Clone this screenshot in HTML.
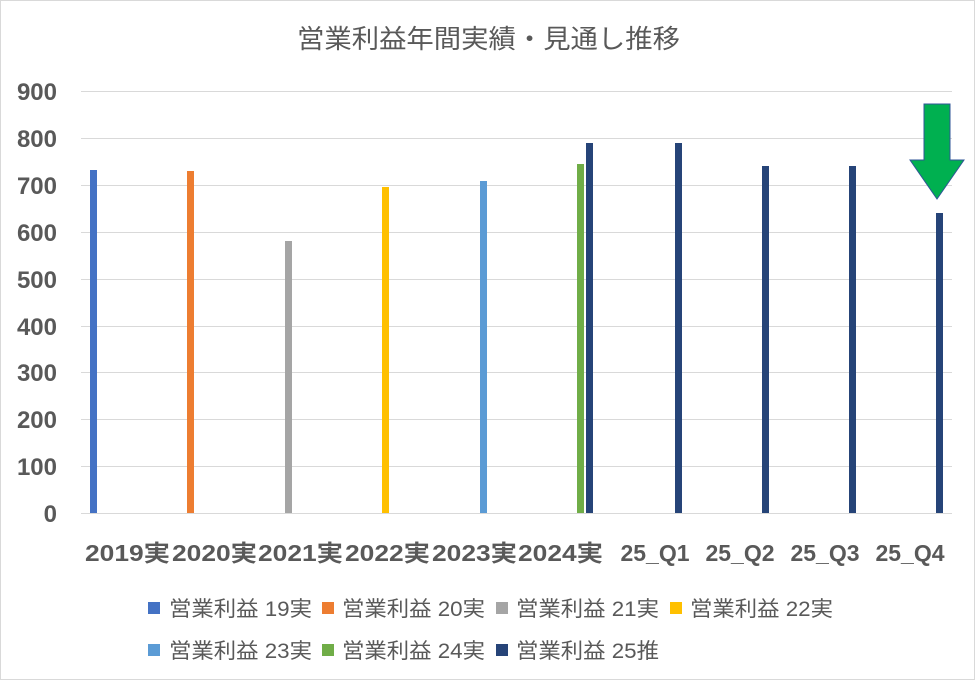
<!DOCTYPE html><html><head><meta charset="utf-8"><style>
body{margin:0;background:#fff}
svg{display:block}
text{font-family:"Liberation Sans","Noto Sans CJK JP",sans-serif;fill:#595959}
</style></head><body>
<svg width="975" height="680" viewBox="0 0 975 680">
<rect x="0.5" y="0.5" width="974" height="679" fill="#fff" stroke="#d9d9d9"/>
<text x="297" y="48" font-size="26" textLength="383" lengthAdjust="spacingAndGlyphs">営業利益年間実績・見通し推移</text>
<g stroke="#d9d9d9" stroke-width="1">
<line x1="81" x2="952" y1="91.5" y2="91.5"/><line x1="81" x2="952" y1="138.5" y2="138.5"/><line x1="81" x2="952" y1="185.5" y2="185.5"/><line x1="81" x2="952" y1="232.5" y2="232.5"/><line x1="81" x2="952" y1="279.5" y2="279.5"/><line x1="81" x2="952" y1="326.5" y2="326.5"/><line x1="81" x2="952" y1="372.5" y2="372.5"/><line x1="81" x2="952" y1="419.5" y2="419.5"/><line x1="81" x2="952" y1="466.5" y2="466.5"/><line x1="81" x2="952" y1="513.5" y2="513.5"/>
</g>
<g font-size="24" font-weight="bold" text-anchor="end">
<text x="57" y="100">900</text><text x="57" y="147">800</text><text x="57" y="194">700</text><text x="57" y="241">600</text><text x="57" y="288">500</text><text x="57" y="335">400</text><text x="57" y="381">300</text><text x="57" y="428">200</text><text x="57" y="475">100</text><text x="57" y="522">0</text>
</g>
<rect x="90" y="170" width="7" height="343" fill="#4472c4"/>
<rect x="187" y="171" width="7" height="342" fill="#ed7d31"/>
<rect x="285" y="241" width="7" height="272" fill="#a5a5a5"/>
<rect x="382" y="187" width="7" height="326" fill="#ffc000"/>
<rect x="480" y="181" width="7" height="332" fill="#5b9bd5"/>
<rect x="577" y="164" width="7" height="349" fill="#70ad47"/>
<g fill="#264478">
<rect x="586" y="143" width="7" height="370"/>
<rect x="675" y="143" width="7" height="370"/>
<rect x="762" y="166" width="7" height="347"/>
<rect x="849" y="166" width="7" height="347"/>
<rect x="936" y="213" width="7" height="300"/>
</g>
<polygon points="924,104 950,104 950,160 964,160 937,199 910,160 924,160" fill="#00b050" stroke="#2f5597" stroke-width="1"/>
<g font-size="23" font-weight="bold">
<text x="85" y="561" textLength="85" lengthAdjust="spacingAndGlyphs">2019実</text><text x="172" y="561" textLength="85" lengthAdjust="spacingAndGlyphs">2020実</text><text x="258" y="561" textLength="85" lengthAdjust="spacingAndGlyphs">2021実</text><text x="345" y="561" textLength="85" lengthAdjust="spacingAndGlyphs">2022実</text><text x="432" y="561" textLength="85" lengthAdjust="spacingAndGlyphs">2023実</text><text x="518" y="561" textLength="85" lengthAdjust="spacingAndGlyphs">2024実</text>
</g>
<g font-size="23" font-weight="bold" text-anchor="middle">
<text x="655" y="561">25_Q1</text><text x="740" y="561">25_Q2</text><text x="825" y="561">25_Q3</text><text x="910" y="561">25_Q4</text>
</g>
<g font-size="21">
<rect x="148" y="602" width="12" height="12" fill="#4472c4"/><text x="169" y="616" textLength="143" lengthAdjust="spacingAndGlyphs">営業利益 19実</text>
<rect x="322" y="602" width="12" height="12" fill="#ed7d31"/><text x="342" y="616" textLength="143" lengthAdjust="spacingAndGlyphs">営業利益 20実</text>
<rect x="496" y="602" width="12" height="12" fill="#a5a5a5"/><text x="516" y="616" textLength="143" lengthAdjust="spacingAndGlyphs">営業利益 21実</text>
<rect x="670" y="602" width="12" height="12" fill="#ffc000"/><text x="690" y="616" textLength="143" lengthAdjust="spacingAndGlyphs">営業利益 22実</text>
<rect x="148" y="644" width="12" height="12" fill="#5b9bd5"/><text x="169" y="658" textLength="143" lengthAdjust="spacingAndGlyphs">営業利益 23実</text>
<rect x="322" y="644" width="12" height="12" fill="#70ad47"/><text x="342" y="658" textLength="143" lengthAdjust="spacingAndGlyphs">営業利益 24実</text>
<rect x="496" y="644" width="12" height="12" fill="#264478"/><text x="516" y="658" textLength="143" lengthAdjust="spacingAndGlyphs">営業利益 25推</text>
</g>
</svg>
</body></html>
